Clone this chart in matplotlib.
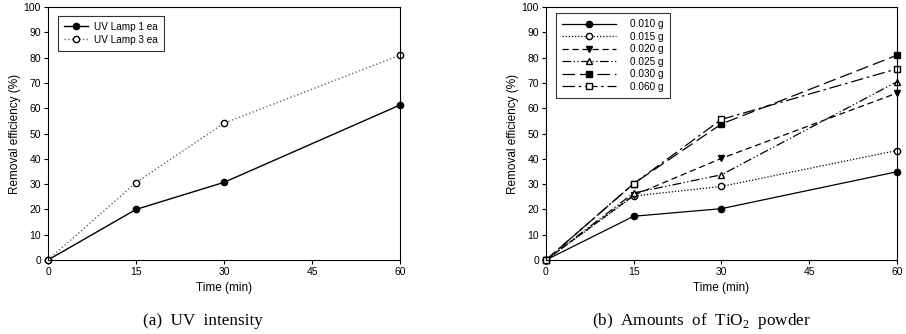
import matplotlib
matplotlib.use("Agg")
import matplotlib.pyplot as plt

plt.rcParams['font.family'] = ['Liberation Sans', 'DejaVu Sans']
plt.rcParams['mathtext.fontset'] = 'custom'
plt.rcParams['mathtext.rm'] = 'Liberation Serif'

time = [0, 15, 30, 60]

# (a) UV lamp count
lamp1 = [0, 20.0, 30.7, 61.3]
lamp3 = [0, 30.6, 54.1, 81.0]

# (b) TiO2 dose
doses = ['0.010 g', '0.015 g', '0.020 g', '0.025 g', '0.030 g', '0.060 g']
dose_vals = [
    [0, 17.3, 20.3, 34.9],
    [0, 25.3, 29.1, 43.3],
    [0, 25.6, 40.2, 66.0],
    [0, 26.5, 33.7, 70.5],
    [0, 30.2, 53.8, 81.0],
    [0, 30.2, 55.6, 75.6],
]
dose_styles = [
    ('-', 'o', 'black'),
    ((0, (1, 1.5)), 'o', 'white'),
    ((0, (5, 3)), 'v', 'black'),
    ((0, (7, 2, 1, 2, 1, 2)), '^', 'white'),
    ((0, (10, 4)), 's', 'black'),
    ((0, (10, 3, 2, 3)), 's', 'white'),
]

fig = plt.figure(figsize=(9.06, 3.34), dpi=100)
ax1 = fig.add_axes([0.053, 0.2216, 0.3885, 0.757])
ax2 = fig.add_axes([0.6026, 0.2216, 0.3874, 0.757])

ax1.plot(time, lamp1, '-', color='black', lw=1, marker='o', ms=4.5,
         mfc='black', mec='black', label='UV Lamp 1 ea')
ax1.plot(time, lamp3, ':', color='#666666', lw=1, marker='o', ms=4.5,
         mfc='white', mec='black', label='UV Lamp 3 ea')

for name, vals, (ls, mk, fc) in zip(doses, dose_vals, dose_styles):
    ax2.plot(time, vals, linestyle=ls, color='black', lw=0.9, marker=mk, ms=4.5,
             mfc=fc, mec='black', label=name)

for ax in (ax1, ax2):
    ax.set_xlim(0, 60)
    ax.set_ylim(0, 100)
    ax.set_xticks([0, 15, 30, 45, 60])
    ax.set_yticks(range(0, 101, 10))
    ax.tick_params(direction='out', length=3, width=0.8, labelsize=7.5,
                   top=False, right=False, pad=2)
    ax.set_xlabel('Time (min)', fontsize=8.5, labelpad=4)
    ax.set_ylabel('Removal efficiency (%)', fontsize=8.5, labelpad=2)
    for s in ax.spines.values():
        s.set_linewidth(0.8)
    for p in ax.lines:
        p.set_clip_on(False)

leg1 = ax1.legend(loc='upper left', bbox_to_anchor=(0.015, 0.985), fontsize=7.2,
                  frameon=True, fancybox=False, edgecolor='black',
                  handlelength=2.4, handletextpad=0.6, labelspacing=0.3,
                  borderpad=0.6)
leg1.get_frame().set_linewidth(0.8)

leg2 = ax2.legend(loc='upper left', bbox_to_anchor=(0.015, 0.995), fontsize=7.2,
                  frameon=True, fancybox=False, edgecolor='black',
                  handlelength=5.4, handletextpad=1.4, labelspacing=0.25,
                  borderpad=0.6)
leg2.get_frame().set_linewidth(0.8)

fig.text(0.224, 0.026, '(a)  UV  intensity', family='Liberation Serif',
         fontsize=12.3, ha='center')
fig.text(0.774, 0.026, '(b)  Amounts  of  TiO$_2$  powder',
         family='Liberation Serif', fontsize=12.3, ha='center')

fig.savefig('out.png', dpi=100)
